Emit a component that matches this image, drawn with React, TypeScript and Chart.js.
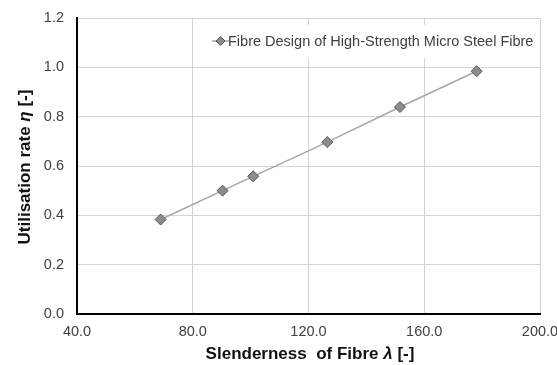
import React, { useEffect, useRef } from "react";
import { Chart, registerables } from "chart.js";

Chart.register(...registerables);

const slenderness = [68.9, 90.3, 100.9, 126.5, 151.6, 178.1];
const utilisation = [0.383, 0.5, 0.558, 0.697, 0.839, 0.984];
const seriesLabel = "Fibre Design of High-Strength Micro Steel Fibre";
const xTitle = [
  { t: "Slenderness  of Fibre ", i: false },
  { t: "λ", i: true },
  { t: " [-]", i: false },
];
const yTitle = [
  { t: "Utilisation rate ", i: false },
  { t: "η", i: true },
  { t: " [-]", i: false },
];

const FONT = "'Liberation Sans', Arial, sans-serif";

function drawSegs(ctx: CanvasRenderingContext2D, segs: { t: string; i: boolean }[], size: number) {
  const fontOf = (it: boolean) => `${it ? "italic " : ""}bold ${size}px ${FONT}`;
  let total = 0;
  const widths = segs.map((s) => {
    ctx.font = fontOf(s.i);
    const w = ctx.measureText(s.t).width;
    total += w;
    return w;
  });
  let x = -total / 2;
  segs.forEach((s, k) => {
    ctx.font = fontOf(s.i);
    ctx.fillText(s.t, x, 0);
    x += widths[k];
  });
}

const overlay = {
  id: "overlay",
  beforeDatasetsDraw(chart: any) {
    const ctx = chart.ctx as CanvasRenderingContext2D;
    const area = chart.chartArea;
    ctx.save();
    const bx = 206, by = 25, bw = area.right - 1 - 206, bh = 33;
    ctx.fillStyle = "#ffffff";
    ctx.fillRect(bx, by, bw, bh);
    const cy = 41;
    ctx.strokeStyle = "#a6a6a6";
    ctx.lineWidth = 1.5;
    ctx.beginPath();
    ctx.moveTo(212, cy);
    ctx.lineTo(229, cy);
    ctx.stroke();
    ctx.fillStyle = "#8c8c8c";
    ctx.strokeStyle = "#555555";
    ctx.lineWidth = 1;
    const r = 4.5;
    const mx = 220.5;
    ctx.beginPath();
    ctx.moveTo(mx, cy - r);
    ctx.lineTo(mx + r, cy);
    ctx.lineTo(mx, cy + r);
    ctx.lineTo(mx - r, cy);
    ctx.closePath();
    ctx.fill();
    ctx.stroke();
    ctx.fillStyle = "#404040";
    ctx.font = `14.5px ${FONT}`;
    ctx.textBaseline = "middle";
    ctx.textAlign = "left";
    ctx.fillText(seriesLabel, 228, cy + 0.5);
    ctx.restore();
  },
  afterDraw(chart: any) {
    const ctx = chart.ctx as CanvasRenderingContext2D;
    const area = chart.chartArea;
    ctx.save();
    ctx.fillStyle = "#111111";
    ctx.textBaseline = "middle";
    ctx.textAlign = "left";
    ctx.translate(310, 354);
    drawSegs(ctx, xTitle, 17);
    ctx.restore();
    ctx.save();
    ctx.fillStyle = "#111111";
    ctx.textBaseline = "middle";
    ctx.textAlign = "left";
    ctx.translate(25, 167);
    ctx.rotate(-Math.PI / 2);
    drawSegs(ctx, yTitle, 17);
    ctx.restore();
  },
};

export default function App() {
  const ref = useRef<HTMLCanvasElement>(null);
  useEffect(() => {
    document.body.style.margin = "0";
    const chart = new Chart(ref.current!, {
      type: "line",
      data: {
        datasets: [
          {
            label: seriesLabel,
            data: slenderness.map((x, i) => ({ x, y: utilisation[i] })),
            borderColor: "#a6a6a6",
            borderWidth: 1.5,
            pointStyle: "rectRot",
            pointRadius: 5.5,
            pointBackgroundColor: "#8c8c8c",
            pointBorderColor: "#555555",
            pointBorderWidth: 1,
            tension: 0,
          },
        ],
      },
      options: {
        animation: false,
        responsive: false,
        layout: { padding: { top: 18, right: 17, left: 0, bottom: 0 } },
        plugins: { legend: { display: false }, tooltip: { enabled: false } },
        scales: {
          x: {
            type: "linear",
            min: 40,
            max: 200,
            afterFit: (s: any) => {
              s.height = 51;
              s.paddingLeft = 0;
              s.paddingRight = 0;
            },
            ticks: {
              stepSize: 20,
              padding: 9,
              color: "#404040",
              font: { family: FONT, size: 14.5 },
              maxRotation: 0,
              autoSkip: false,
              callback: (v: any) => (Number(v) % 40 === 0 ? Number(v).toFixed(1) : null),
            },
            grid: { color: "#d4d4d4", lineWidth: 1, drawTicks: false },
            border: { color: "#000000", width: 2 },
          },
          y: {
            min: 0,
            max: 1.2,
            afterFit: (s: any) => {
              s.width = 77;
              s.paddingTop = 0;
              s.paddingBottom = 0;
            },
            ticks: {
              stepSize: 0.2,
              padding: 13,
              color: "#404040",
              font: { family: FONT, size: 14.5 },
              callback: (v: any) => Number(v).toFixed(1),
            },
            grid: { color: "#d4d4d4", lineWidth: 1, drawTicks: false },
            border: { color: "#000000", width: 2 },
          },
        },
      },
      plugins: [overlay],
    } as any);
    return () => chart.destroy();
  }, []);
  return (
    <div style={{ width: 557, height: 365 }}>
      <canvas ref={ref} width={557} height={365} style={{ display: "block" }} />
    </div>
  );
}
